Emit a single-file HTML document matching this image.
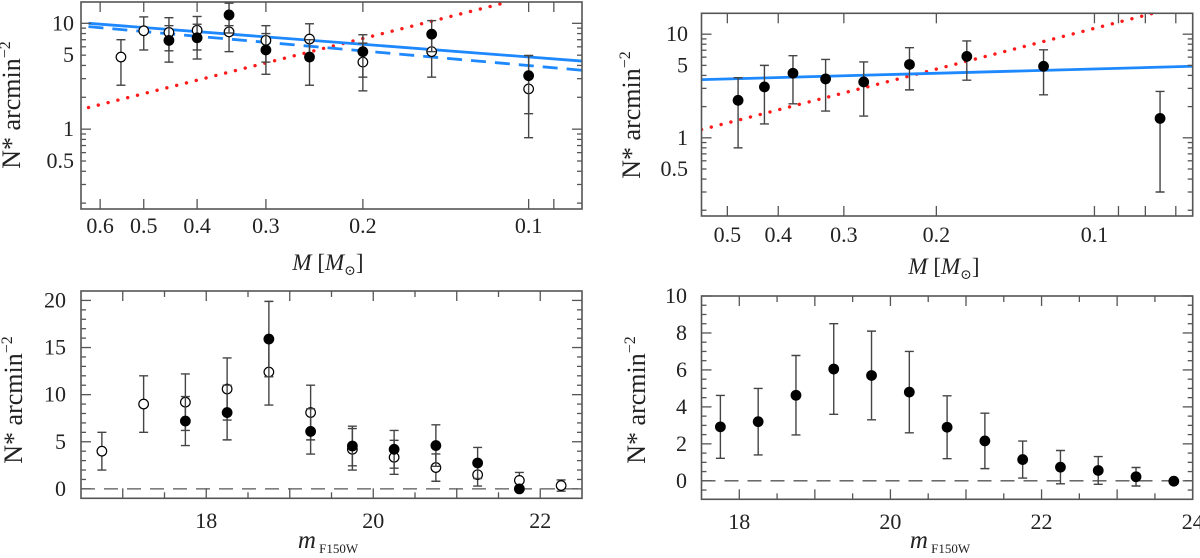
<!DOCTYPE html>
<html><head><meta charset="utf-8"><style>
html,body{margin:0;padding:0;background:#fff;}
svg{display:block;}
text{font-family:"Liberation Serif","DejaVu Serif",serif;}
</style></head><body>
<svg id="fig" width="1200" height="558" viewBox="0 0 1200 558" xmlns="http://www.w3.org/2000/svg"></svg>
<script>
// ---- Panel A (top-left) data ----
const aMass = [0.55,0.5,0.45,0.4,0.35,0.3,0.25,0.2,0.15,0.1];
const aOpen = [4.8,8.5,8.2,8.6,8.3,6.9,7.1,4.3,5.4,2.4];
const aOpenLo = [2.6,5.6,5.5,5.6,5.4,4.3,4.5,2.3,3.1,0.83];
const aOpenHi = [7.0,11.5,11.3,11.6,9.5,9.5,9.9,6.5,8.0,4.96];
const aFillMass = [0.45,0.4,0.35,0.3,0.25,0.2,0.15,0.1];
const aFill = [6.9,7.3,12.0,5.6,4.8,5.4,7.9,3.2];
const aFillLo = [4.3,4.6,8.1,3.3,2.6,3.1,5.4,1.4];
const aFillHi = [9.5,9.8,15.5,8.0,7.0,7.8,10.6,4.96];
const aSolidM = [0.63,0.08], aSolidV = [10.0,4.4];
const aDashM = [0.63,0.08], aDashV = [9.3,3.6];
const aRedM = [0.63,0.109], aRedV = [1.6,15.9];
const aXTicks = [0.6,0.5,0.4,0.3,0.2,0.1];
const aXMinor = [0.09];
// ---- Panel B (top-right) data ----
const bMass = [0.477,0.425,0.375,0.325,0.275,0.225,0.175,0.125,0.075];
const bVal = [2.3,3.1,4.2,3.7,3.46,5.1,6.1,4.9,1.54];
const bLo = [0.8,1.36,2.13,1.81,1.62,2.9,3.6,2.6,0.30];
const bHi = [3.8,5.0,6.2,5.7,5.4,7.4,8.6,7.06,2.8];
const bSolidM = [0.56,0.065], bSolidV = [3.64,4.9];
const bRedM = [0.56,0.077], bRedV = [1.2,16];
const bXTicks = [0.5,0.4,0.3,0.2,0.1];
const bXMinor = [0.09,0.08,0.07];
const logYTicks = [0.5,1,5,10];
// ---- Panel C (bottom-left) data ----
const cOpenMag = [16.75,17.25,17.75,18.25,18.75,19.25,19.75,20.25,20.75,21.25,21.75,22.25];
const cOpen = [4.0,9.0,9.2,10.6,12.4,8.1,4.2,3.35,2.26,1.5,0.9,0.35];
const cOpenErr = [2.0,3.0,3.0,3.3,3.5,2.9,2.2,1.8,1.45,1.2,0.85,0.6];
const cFillMag = [17.75,18.25,18.75,19.25,19.75,20.25,20.75,21.25,21.75];
const cFill = [7.2,8.1,15.9,6.1,4.55,4.2,4.6,2.75,0];
const cFillErr = [2.6,2.9,4.0,2.4,2.1,2.0,2.2,1.65,0];
const cXTicks = [18,20,22];
const cYTicks = [0,5,10,15,20];
// ---- Panel D (bottom-right) data ----
const dMag = [17.75,18.25,18.75,19.25,19.75,20.25,20.75,21.25,21.75,22.25,22.75,23.25,23.75];
const dVal = [2.92,3.2,4.63,6.05,5.7,4.8,2.9,2.16,1.15,0.74,0.56,0.22,-0.02];
const dErr = [1.7,1.8,2.15,2.45,2.4,2.2,1.7,1.5,1.0,0.9,0.75,0.5,0];
const dXTicks = [18,20,22,24];
const dYTicks = [0,2,4,6,8,10];

const NS = "http://www.w3.org/2000/svg";
const svg = document.getElementById('fig');
function mk(tag, attrs, parent){
  const e = document.createElementNS(NS, tag);
  for (const k in attrs) e.setAttribute(k, attrs[k]);
  (parent||svg).appendChild(e);
  return e;
}
const FR = "#555";
const FONT = '"Liberation Serif", "DejaVu Serif", serif';

function makePanel(name, x0, x1, y0, y1, xd, yd, xlog, ylog){
  const g = mk('g', {});
  
  
  const lx = v => xlog ? Math.log10(v) : v;
  const ly = v => ylog ? Math.log10(v) : v;
  const X = v => x0 + (lx(v) - lx(xd[0])) / (lx(xd[1]) - lx(xd[0])) * (x1 - x0);
  const Y = v => y1 - (ly(v) - ly(yd[0])) / (ly(yd[1]) - ly(yd[0])) * (y1 - y0);
  const cid = name + '-clip';
  const cp = mk('clipPath', {id: cid}, g);
  mk('rect', {x:x0, y:y0, width:x1-x0, height:y1-y0}, cp);
  const plot = mk('g', {'clip-path':'url(#'+cid+')'}, g);
  return {g, plot, X, Y, x0, x1, y0, y1};
}
function frame(p){
  const r = mk('rect', {x:p.x0, y:p.y0, width:p.x1-p.x0, height:p.y1-p.y0, fill:'none', stroke:FR, 'stroke-width':1.6}, p.g);
  
  
}
function xtick(p, xv, len){
  const x = p.X(xv);
  mk('line', {x1:x, x2:x, y1:p.y1, y2:p.y1-len, stroke:FR, 'stroke-width':1.3}, p.g);
  mk('line', {x1:x, x2:x, y1:p.y0, y2:p.y0+len, stroke:FR, 'stroke-width':1.3}, p.g);
}
function ytick(p, yv, len){
  const y = p.Y(yv);
  mk('line', {x1:p.x0, x2:p.x0+len, y1:y, y2:y, stroke:FR, 'stroke-width':1.3}, p.g);
  mk('line', {x1:p.x1, x2:p.x1-len, y1:y, y2:y, stroke:FR, 'stroke-width':1.3}, p.g);
}
function label(p, x, y, txt, anchor, name, size){
  const t = mk('text', {x:x, y:y, 'text-anchor':anchor||'middle', 'font-size':size||21, fill:'#222', 'font-family':FONT}, p.g);
  t.textContent = txt;
  
  
  return t;
}
function errpt(p, xv, yv, lo, hi, filled, name){
  const x = p.X(xv);
  if (hi !== lo){
    const l = mk('line', {x1:x, x2:x, y1:p.Y(hi), y2:p.Y(lo), stroke:'#444', 'stroke-width':1.4}, p.plot);
    
    
    mk('line', {x1:x-4.5, x2:x+4.5, y1:p.Y(hi), y2:p.Y(hi), stroke:'#444', 'stroke-width':1.4}, p.plot);
    mk('line', {x1:x-4.5, x2:x+4.5, y1:p.Y(lo), y2:p.Y(lo), stroke:'#444', 'stroke-width':1.4}, p.plot);
  }
  const c = mk('circle', {cx:x, cy:p.Y(yv), r:4.8, fill: filled?'#000':'#fff', stroke:'#000', 'stroke-width':1.2}, p.plot);
  
  
}
function line(p, xs, ys, style, name){
  const l = mk('line', {x1:p.X(xs[0]), y1:p.Y(ys[0]), x2:p.X(xs[1]), y2:p.Y(ys[1])}, p.plot);
  for (const k in style) l.setAttribute(k, style[k]);
  
  
}
function logYAxis(p, labelRight){
  for (let d=-1; d<=1; d++) for (let m=1; m<=9; m++){
    const v = m*Math.pow(10,d);
    if (v < 0.176 || v > 15.9) continue;
    ytick(p, v, (m===1)?10:5);
  }
  logYTicks.forEach(v => label(p, labelRight, p.Y(v)+7, String(v), 'end', 'y-tick-label', 22));
}
function yTitle(p, x, y){
  const t = mk('text', {x:0, y:0, 'font-size':26, fill:'#222', 'text-anchor':'middle', 'font-family':FONT, transform:'translate('+x+','+y+') rotate(-90)'}, p.g);
  t.innerHTML = 'N* arcmin<tspan dy="-10" font-size="16">−2</tspan>';
  
  
}
function massTitle(p, x, y){
  const t = mk('text', {x:x, y:y, 'font-size':23, fill:'#222', 'text-anchor':'middle', 'font-family':FONT}, p.g);
  t.innerHTML = '<tspan font-style="italic">M</tspan>  [<tspan font-style="italic">M</tspan><tspan font-size="14" dy="5">⊙</tspan><tspan dy="-5">]</tspan>';
  
  
}
function magTitle(p, x, y){
  const t = mk('text', {x:x, y:y, 'font-size':25, fill:'#222', 'text-anchor':'middle', 'font-family':FONT}, p.g);
  t.innerHTML = '<tspan font-style="italic">m</tspan><tspan font-size="13" dy="5"> F150W</tspan>';
  
  
}
const RED = {stroke:'#ff1a1a', 'stroke-width':3.4, 'stroke-dasharray':'0.1 10', 'stroke-linecap':'round'};
const BLUE = {stroke:'#1e88ff', 'stroke-width':2.8};
const BLUED = {stroke:'#1e88ff', 'stroke-width':2.8, 'stroke-dasharray':'15 9'};

// Panel A
const A = makePanel('panel-mass-function-left', 81, 582, 2, 209, [0.65,0.080], [0.176,15.9], true, true);
aXTicks.forEach(v => xtick(A, v, 10));
aXMinor.forEach(v => xtick(A, v, 10));
aXTicks.forEach(v => label(A, A.X(v), 233, String(v), 'middle', 'x-tick-label', 22));
logYAxis(A, 74);
line(A, aRedM, aRedV, RED, 'power-law-red-dotted');
line(A, aSolidM, aSolidV, BLUE, 'fit-blue-solid');
line(A, aDashM, aDashV, BLUED, 'fit-blue-dashed');
aMass.forEach((m,i) => errpt(A, m, aOpen[i], aOpenLo[i], aOpenHi[i], false, 'open-point'));
aFillMass.forEach((m,i) => errpt(A, m, aFill[i], aFillLo[i], aFillHi[i], true, 'filled-point'));
frame(A);
yTitle(A, 20, 105);
massTitle(A, 328, 270);

// Panel B
const B = makePanel('panel-mass-function-right', 701.5, 1192.7, 13.3, 216, [0.56,0.065], [0.176,15.9], true, true);
bXTicks.forEach(v => xtick(B, v, 10));
bXMinor.forEach(v => xtick(B, v, 10));
bXTicks.forEach(v => label(B, B.X(v), 242, String(v), 'middle', 'x-tick-label', 22));
logYAxis(B, 688);
line(B, bRedM, bRedV, RED, 'power-law-red-dotted');
line(B, bSolidM, bSolidV, BLUE, 'fit-blue-solid');
bMass.forEach((m,i) => errpt(B, m, bVal[i], bLo[i], bHi[i], true, 'filled-point'));
frame(B);
yTitle(B, 640, 115);
massTitle(B, 944, 274);

// Panel C
const C = makePanel('panel-luminosity-function-left', 81, 582, 291, 498.3, [16.5,22.5], [-1,21], false, false);
for (let v=17; v<=22; v+=0.5) xtick(C, v, (v%1===0)?10:6);
for (let v=0; v<=20; v+=1) ytick(C, v, (v%5===0)?10:5);
cXTicks.forEach(v => label(C, C.X(v), 528, String(v), 'middle', 'x-tick-label', 22));
cYTicks.forEach(v => label(C, 66, C.Y(v)+7, String(v), 'end', 'y-tick-label', 22));
line(C, [16.5,22.5], [0,0], {stroke:'#555','stroke-width':1.3,'stroke-dasharray':'14 9'}, 'zero-line');
cOpenMag.forEach((m,i) => errpt(C, m, cOpen[i], cOpen[i]-cOpenErr[i], cOpen[i]+cOpenErr[i], false, 'open-point'));
cFillMag.forEach((m,i) => errpt(C, m, cFill[i], cFill[i]-cFillErr[i], cFill[i]+cFillErr[i], true, 'filled-point'));
frame(C);
yTitle(C, 22, 400);
magTitle(C, 328, 548);

// Panel D
const D = makePanel('panel-luminosity-function-right', 701.5, 1192.7, 296, 499.3, [17.5,24], [-1,10], false, false);
for (let v=18; v<=24; v+=0.5) xtick(D, v, (v%1===0)?10:6);
for (let v=-1; v<=10; v+=0.5) ytick(D, v, (v%2===0)?10:5);
dXTicks.forEach(v => label(D, D.X(v), 529, String(v), 'middle', 'x-tick-label', 22));
dYTicks.forEach(v => label(D, 687, D.Y(v)+7, String(v), 'end', 'y-tick-label', 22));
line(D, [17.5,24], [0,0], {stroke:'#555','stroke-width':1.3,'stroke-dasharray':'14 9'}, 'zero-line');
dMag.forEach((m,i) => errpt(D, m, dVal[i], dVal[i]-dErr[i], dVal[i]+dErr[i], true, 'filled-point'));
frame(D);
yTitle(D, 645, 400);
magTitle(D, 940, 548);
</script>
</body></html>
